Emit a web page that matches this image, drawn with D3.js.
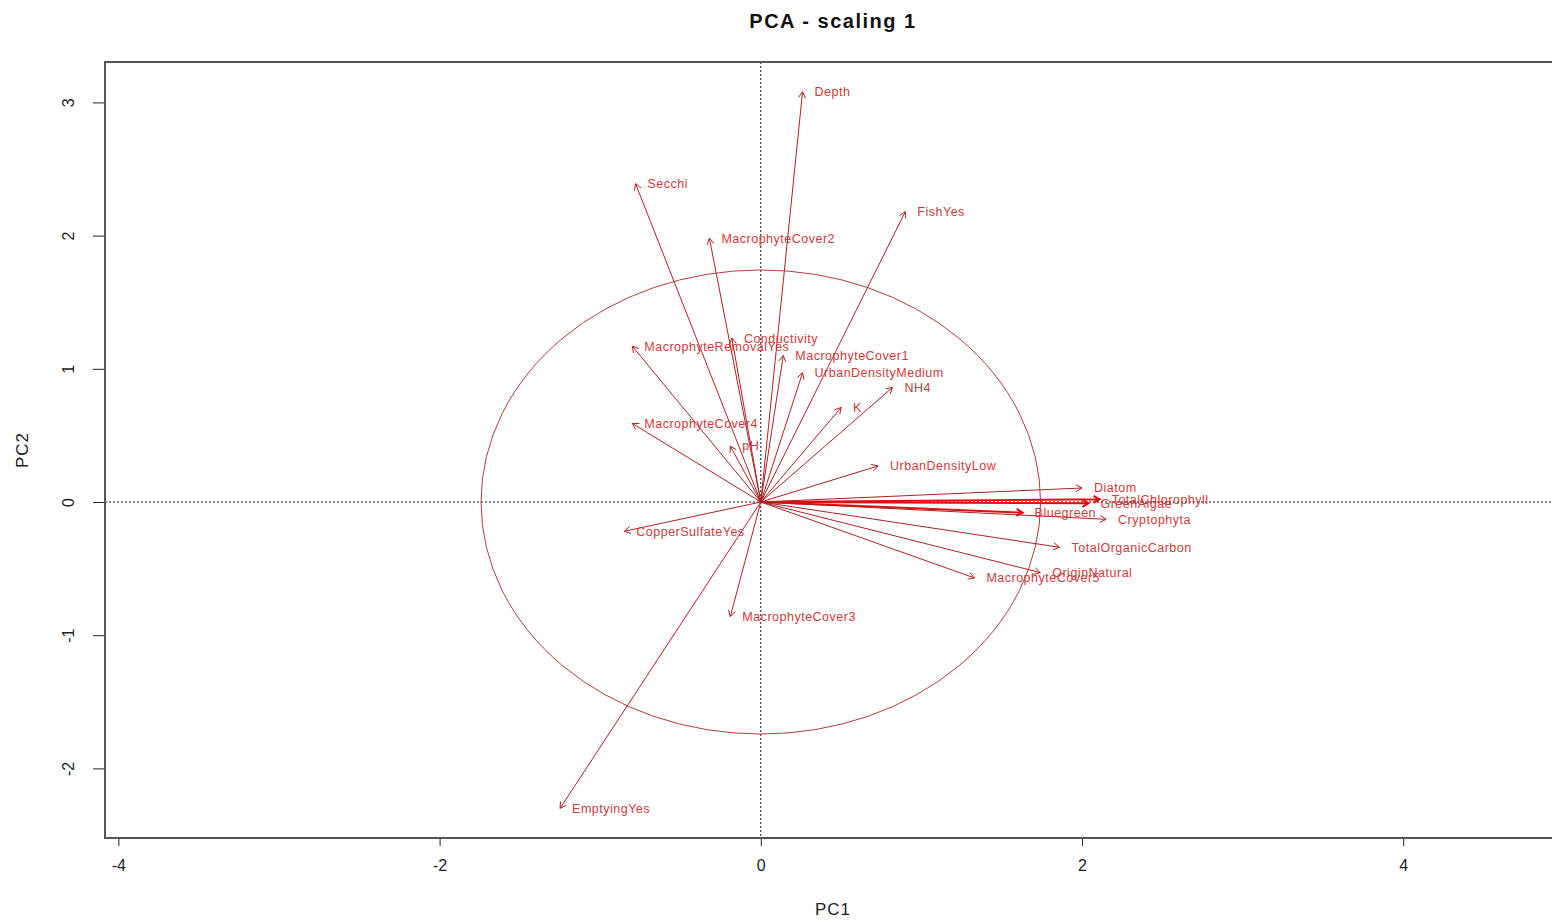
<!DOCTYPE html>
<html>
<head>
<meta charset="utf-8">
<script src="https://cdn.jsdelivr.net/npm/d3@7"></script>
<style>
  body { margin: 0; background: #fff; }
  svg { font-family: "Liberation Sans", Arial, sans-serif; }
</style>
</head>
<body>
<svg id="chart" width="1552" height="923"></svg>
<script>
// variable names and arrow tips (PC1, PC2)
const vars = ["Depth", "Secchi", "FishYes", "MacrophyteCover2", "Conductivity",
  "MacrophyteRemovalYes", "MacrophyteCover1", "UrbanDensityMedium", "NH4", "K",
  "MacrophyteCover4", "pH", "UrbanDensityLow", "Diatom", "TotalChlorophyll",
  "GreenAlgae", "Bluegreen", "Cryptophyta", "TotalOrganicCarbon", "OriginNatural",
  "MacrophyteCover5", "CopperSulfateYes", "MacrophyteCover3", "EmptyingYes"];
const pc1 = [0.26, -0.78, 0.90, -0.32, -0.18, -0.80, 0.14, 0.26, 0.82, 0.50,
  -0.80, -0.19, 0.73, 2.00, 2.11, 2.04, 1.63, 2.15, 1.86, 1.74,
  1.33, -0.85, -0.19, -1.25];
const pc2 = [3.08, 2.39, 2.18, 1.98, 1.23, 1.17, 1.10, 0.97, 0.86, 0.71,
  0.59, 0.42, 0.27, 0.105, 0.02, -0.01, -0.08, -0.13, -0.34, -0.53,
  -0.57, -0.22, -0.86, -2.30];
// arrows drawn heavier in bright red
const bold = ["TotalChlorophyll", "GreenAlgae", "Bluegreen"];

const xTicks = [-4, -2, 0, 2, 4];
const yTicks = [-2, -1, 0, 1, 2, 3];
const circleRadius = 1.742;

const svg = d3.select("#chart");
const box = {left: 105, top: 62, right: 1562, bottom: 838};

const x = d3.scaleLinear().domain([-4, 4]).range([118.4, 1403.2]);
const y = d3.scaleLinear().domain([0, 3]).range([502, 102.4]);

// title
svg.append("text")
  .attr("x", 833).attr("y", 28)
  .attr("text-anchor", "middle")
  .attr("font-size", 20).attr("font-weight", "bold")
  .attr("letter-spacing", 1.5)
  .attr("fill", "#111")
  .text("PCA - scaling 1");

// axes
const xAxis = svg.append("g")
  .attr("transform", `translate(0,${box.bottom})`)
  .call(d3.axisBottom(x).tickValues(xTicks).tickSize(8).tickPadding(14)
    .tickFormat(d => String(d)));
xAxis.select(".domain").remove();
xAxis.selectAll("text").attr("font-size", 16).attr("fill", "#222")
  .attr("font-family", "Liberation Sans Narrow, Liberation Sans, sans-serif");
xAxis.selectAll("line").attr("stroke", "#222");

const yAxis = svg.append("g")
  .attr("transform", `translate(${box.left},0)`)
  .call(d3.axisLeft(y).tickValues(yTicks).tickSize(12).tickFormat(d => String(d)));
yAxis.select(".domain").remove();
yAxis.selectAll("line").attr("stroke", "#222");
yAxis.selectAll("text")
  .attr("font-size", 16).attr("fill", "#222")
  .attr("font-family", "Liberation Sans Narrow, Liberation Sans, sans-serif")
  .attr("text-anchor", "middle")
  .attr("dy", 0)
  .attr("x", 0)
  .attr("transform", "translate(-35,0) rotate(-90)")
  .attr("dominant-baseline", "middle");

svg.append("text")
  .attr("x", 833).attr("y", 915)
  .attr("text-anchor", "middle").attr("font-size", 17).attr("fill", "#222")
  .attr("letter-spacing", 1)
  .text("PC1");
svg.append("text")
  .attr("transform", `translate(28,${y(0) - 52}) rotate(-90)`)
  .attr("text-anchor", "middle").attr("font-size", 17).attr("fill", "#222")
  .attr("letter-spacing", 1)
  .text("PC2");

// plot body, clipped to the box
svg.append("clipPath").attr("id", "clip")
  .append("rect")
  .attr("x", box.left).attr("y", box.top)
  .attr("width", box.right - box.left).attr("height", box.bottom - box.top);
const plot = svg.append("g").attr("clip-path", "url(#clip)");

plot.append("line")
  .attr("x1", box.left).attr("x2", box.right)
  .attr("y1", y(0)).attr("y2", y(0))
  .attr("stroke", "#111").attr("stroke-dasharray", "2,2");
plot.append("line")
  .attr("x1", x(0)).attr("x2", x(0))
  .attr("y1", box.top).attr("y2", box.bottom)
  .attr("stroke", "#111").attr("stroke-dasharray", "2,2");

// equilibrium contribution circle
plot.append("ellipse")
  .attr("cx", x(0)).attr("cy", y(0))
  .attr("rx", x(circleRadius) - x(0))
  .attr("ry", y(0) - y(circleRadius))
  .attr("fill", "none").attr("stroke", "#b83a3a").attr("stroke-width", 1);

const data = vars.map((name, i) => ({name, a: pc1[i], b: pc2[i]}));

function arrowPath(d) {
  const x0 = x(0), y0 = y(0), x1 = x(d.a), y1 = y(d.b);
  const ang = Math.atan2(y1 - y0, x1 - x0);
  const len = 7, spread = Math.PI / 6;
  const h1 = [x1 - len * Math.cos(ang - spread), y1 - len * Math.sin(ang - spread)];
  const h2 = [x1 - len * Math.cos(ang + spread), y1 - len * Math.sin(ang + spread)];
  return `M${x0},${y0}L${x1},${y1}M${h1}L${x1},${y1}L${h2}`;
}

plot.selectAll("path.arrow")
  .data(data).enter()
  .append("path")
  .attr("class", "arrow")
  .attr("d", arrowPath)
  .attr("fill", "none")
  .attr("stroke", d => bold.includes(d.name) ? "#e01010" : "#b02020")
  .attr("stroke-width", d => bold.includes(d.name) ? 2 : 1);

plot.selectAll("text.label")
  .data(data).enter()
  .append("text")
  .attr("class", "label")
  .attr("x", d => x(d.a) + 12)
  .attr("y", d => y(d.b))
  .attr("dy", "0.35em")
  .attr("font-size", 12.5)
  .attr("letter-spacing", 0.5)
  .attr("fill", "#d03a3a")
  .text(d => d.name);

// box
svg.append("rect")
  .attr("x", box.left).attr("y", box.top)
  .attr("width", box.right - box.left).attr("height", box.bottom - box.top)
  .attr("fill", "none").attr("stroke", "#555").attr("stroke-width", 2);
</script>
</body>
</html>
